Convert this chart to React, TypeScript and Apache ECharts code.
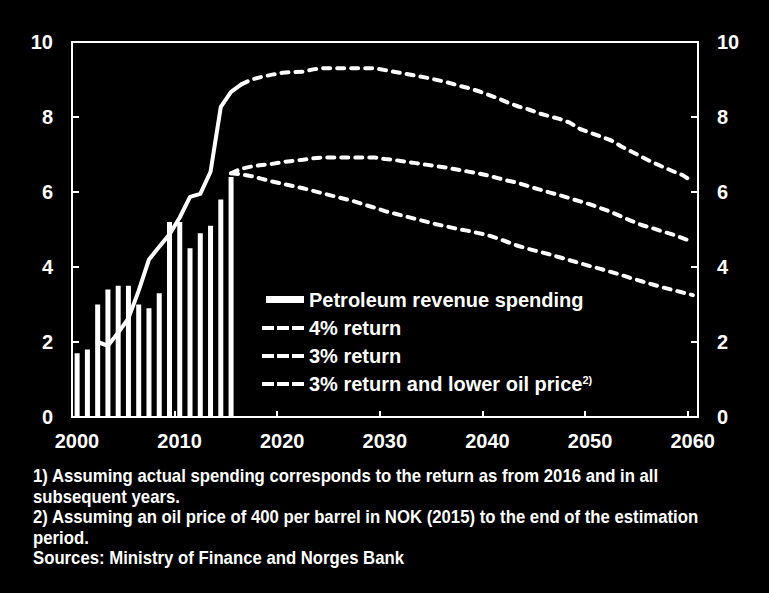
import React, { useEffect, useRef } from 'react';
import * as echarts from 'echarts';

// Petroleum revenue spending (bars), 2000-2015, per cent of trend GDP
const barYears = [2000, 2001, 2002, 2003, 2004, 2005, 2006, 2007, 2008, 2009, 2010, 2011, 2012, 2013, 2014, 2015];
const spending = [1.7, 1.8, 3.0, 3.4, 3.5, 3.5, 3.0, 2.9, 3.3, 5.2, 5.2, 4.5, 4.9, 5.1, 5.8, 6.4];

// Historical expected return (solid line), 2002-2016
const histYears = [2002, 2003, 2004, 2005, 2006, 2007, 2008, 2009, 2010, 2011, 2012, 2013, 2014, 2015, 2016];
const histValues = [2.0, 1.9, 2.25, 2.63, 3.37, 4.2, 4.54, 4.87, 5.32, 5.87, 5.95, 6.54, 8.27, 8.67, 8.87];

// 4% return projection, 2016-2060
const ret4Start = 2016;
const ret4 = [8.87, 9.0, 9.07, 9.13, 9.18, 9.2, 9.21, 9.27, 9.3, 9.3, 9.3, 9.3, 9.3, 9.3, 9.25, 9.2, 9.15, 9.1, 9.05, 8.99, 8.93, 8.85, 8.78, 8.7, 8.6, 8.5, 8.38, 8.28, 8.2, 8.1, 8.02, 7.95, 7.85, 7.68, 7.58, 7.48, 7.38, 7.22, 7.08, 6.94, 6.8, 6.68, 6.56, 6.45, 6.27];

// 3% return projection, 2015-2060
const ret3Start = 2015;
const ret3 = [6.5, 6.62, 6.68, 6.72, 6.75, 6.8, 6.83, 6.86, 6.9, 6.92, 6.92, 6.92, 6.92, 6.92, 6.92, 6.88, 6.85, 6.81, 6.77, 6.73, 6.69, 6.65, 6.6, 6.55, 6.5, 6.44, 6.37, 6.3, 6.24, 6.15, 6.07, 5.99, 5.92, 5.83, 5.75, 5.67, 5.57, 5.47, 5.35, 5.23, 5.12, 5.04, 4.95, 4.87, 4.77, 4.67];

// 3% return and lower oil price, 2015-2060
const ret3LowStart = 2015;
const ret3Low = [6.5, 6.47, 6.42, 6.35, 6.28, 6.22, 6.16, 6.1, 6.03, 5.96, 5.89, 5.82, 5.75, 5.66, 5.58, 5.49, 5.42, 5.35, 5.28, 5.21, 5.14, 5.08, 5.02, 4.97, 4.91, 4.85, 4.76, 4.66, 4.56, 4.48, 4.41, 4.34, 4.26, 4.18, 4.1, 4.02, 3.95, 3.87, 3.79, 3.7, 3.62, 3.54, 3.46, 3.39, 3.32, 3.25];

const yTicks = [0, 2, 4, 6, 8, 10];
const xTickYears = [2000, 2010, 2020, 2030, 2040, 2050, 2060];

const legendNames = ['Petroleum revenue spending', '4% return', '3% return', '3% return and lower oil price'];

const footnotes = [
  '1) Assuming actual spending corresponds to the return as from 2016 and in all',
  'subsequent years.',
  '2) Assuming an oil price of 400 per barrel in NOK (2015) to the end of the estimation',
  'period.',
  'Sources: Ministry of Finance and Norges Bank',
];

// Each annual observation is centred in the middle of its year
const MID = 0.5;
const FONT = "'Liberation Sans', Arial, Helvetica, sans-serif";

// Legend icons: a filled block for bars, three dashes for the projections
const BAR_ICON = 'path://M4,0h38v7h-38z M0,0h0.01v0.01h-0.01z M41.99,7.99h0.01v0.01h-0.01z';
const DASH_ICON =
  'path://M0,0h0.01v0.01h-0.01z M0,2h12v4h-12z M15,2h12v4h-12z M30,2h12v4h-12z M41.99,7.99h0.01v0.01h-0.01z';

export default function App() {
  const ref = useRef<HTMLDivElement>(null);

  useEffect(() => {
    document.body.style.margin = '0';
    document.body.style.background = '#000';
    const chart = echarts.init(ref.current!, null, { renderer: 'svg' });

    const fromStart = (start: number, vals: number[]) => vals.map((v, i) => [start + i + MID, v]);

    const dashed = {
      color: '#fff',
      width: 4,
      type: [7, 7] as number[],
      cap: 'round' as const,
    };

    const axisLabelStyle = {
      color: '#fff',
      fontSize: 20,
      fontWeight: 'bold' as const,
      fontFamily: FONT,
    };

    const legendItemStyle = { color: '#fff', borderWidth: 0, opacity: 1 };

    const option: any = {
      animation: false,
      backgroundColor: '#000',
      grid: {
        left: 72,
        right: 71,
        top: 42,
        bottom: 176,
        show: true,
        borderColor: '#fff',
        borderWidth: 2,
        backgroundColor: 'transparent',
      },
      xAxis: {
        type: 'value',
        min: xTickYears[0],
        max: 2061,
        interval: 10,
        axisLine: { show: true, lineStyle: { color: '#fff', width: 2 } },
        axisTick: { show: true, inside: true, length: 6, lineStyle: { color: '#fff', width: 2 } },
        splitLine: { show: false },
        axisLabel: {
          ...axisLabelStyle,
          margin: 14,
          padding: [0, 0, 0, 10],
          formatter: (v: number) => (xTickYears.includes(v) ? String(v) : ''),
        },
      },
      yAxis: [0, 1].map((i) => ({
        type: 'value',
        position: i === 0 ? 'left' : 'right',
        min: yTicks[0],
        max: yTicks[yTicks.length - 1],
        interval: 2,
        axisLine: { show: true, lineStyle: { color: '#fff', width: 2 } },
        axisTick: { show: true, inside: true, length: 7, lineStyle: { color: '#fff', width: 2 } },
        splitLine: { show: false },
        axisLabel: { ...axisLabelStyle, margin: 19 },
      })),
      legend: {
        orient: 'vertical',
        left: 262,
        top: 290,
        padding: 0,
        itemWidth: 42,
        itemHeight: 8,
        itemGap: 8,
        data: [
          { name: legendNames[0], icon: BAR_ICON, itemStyle: legendItemStyle },
          { name: legendNames[1], icon: DASH_ICON, itemStyle: legendItemStyle },
          { name: legendNames[2], icon: DASH_ICON, itemStyle: legendItemStyle },
          { name: legendNames[3], icon: DASH_ICON, itemStyle: legendItemStyle },
        ],
        formatter: (name: string) => (name === legendNames[3] ? name + '{sup|2)}' : name),
        textStyle: {
          color: '#fff',
          fontSize: 20,
          fontWeight: 'bold',
          fontFamily: FONT,
          lineHeight: 20,
          rich: {
            sup: {
              color: '#fff',
              fontSize: 11,
              fontWeight: 'bold',
              fontFamily: FONT,
              lineHeight: 11,
              verticalAlign: 'top',
            },
          },
        },
      },
      graphic: [
        {
          type: 'text',
          x: 33,
          y: 466,
          scaleX: 0.93,
          style: {
            text: footnotes.join('\n'),
            fill: '#fff',
            fontSize: 18,
            fontWeight: 'bold',
            fontFamily: FONT,
            lineHeight: 20.5,
            verticalAlign: 'top',
          },
        },
      ],
      series: [
        {
          name: legendNames[0],
          type: 'bar',
          barWidth: 5,
          itemStyle: { color: '#fff' },
          data: barYears.map((y, i) => [y + MID, spending[i]]),
          z: 2,
        },
        {
          name: 'Historical',
          type: 'line',
          symbol: 'none',
          itemStyle: { color: '#fff' },
          lineStyle: { color: '#fff', width: 4, cap: 'round', join: 'round' },
          data: histYears.map((y, i) => [y + MID, histValues[i]]),
          z: 3,
        },
        {
          name: legendNames[1],
          type: 'line',
          symbol: 'none',
          itemStyle: { color: '#fff' },
          lineStyle: dashed,
          data: fromStart(ret4Start, ret4),
          z: 3,
        },
        {
          name: legendNames[2],
          type: 'line',
          symbol: 'none',
          itemStyle: { color: '#fff' },
          lineStyle: dashed,
          data: fromStart(ret3Start, ret3),
          z: 3,
        },
        {
          name: legendNames[3],
          type: 'line',
          symbol: 'none',
          itemStyle: { color: '#fff' },
          lineStyle: dashed,
          data: fromStart(ret3LowStart, ret3Low),
          z: 3,
        },
      ],
    };

    chart.setOption(option);
    return () => chart.dispose();
  }, []);

  return <div ref={ref} style={{ width: 769, height: 593 }} />;
}
